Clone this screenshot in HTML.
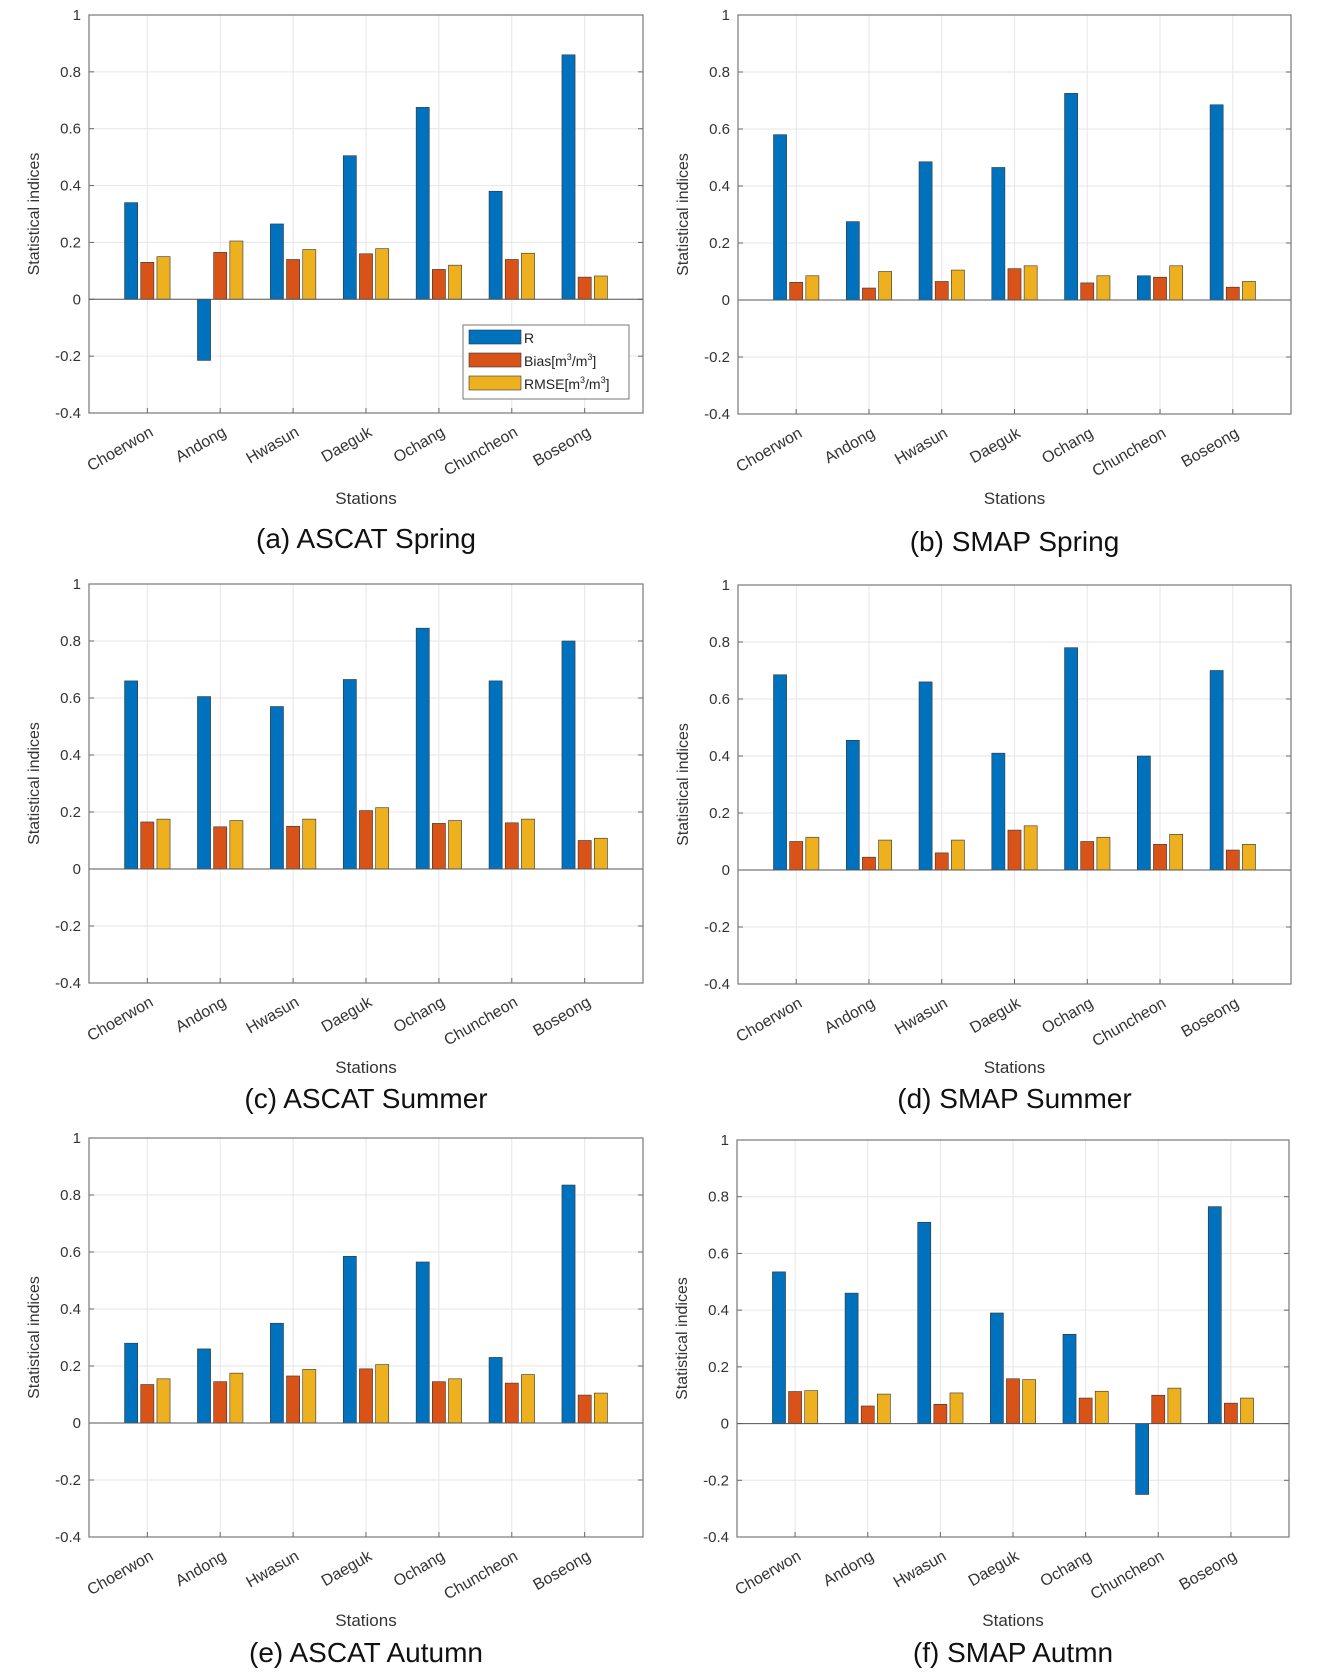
<!DOCTYPE html>
<html><head><meta charset="utf-8"><style>
body{margin:0;background:#fff;}
svg{display:block;font-family:"Liberation Sans",Arial,sans-serif;}
</style></head><body>
<svg id="s" width="1326" height="1677" xmlns="http://www.w3.org/2000/svg"></svg>
<script>
const P=[
{L:89,R:643,T:15,B:413,cap:"(a) ASCAT Spring",cy:538,sy:498,leg:true,
R_:[0.34,-0.215,0.265,0.505,0.675,0.38,0.86],Bi:[0.13,0.165,0.14,0.16,0.105,0.14,0.078],Rm:[0.15,0.205,0.175,0.178,0.12,0.162,0.082]},
{L:738,R:1291,T:15,B:414,cap:"(b) SMAP Spring",cy:541,sy:498,
R_:[0.58,0.275,0.485,0.465,0.725,0.085,0.685],Bi:[0.062,0.042,0.065,0.11,0.06,0.08,0.045],Rm:[0.085,0.1,0.105,0.12,0.085,0.12,0.065]},
{L:89,R:643,T:584,B:983,cap:"(c) ASCAT Summer",cy:1098,sy:1067,
R_:[0.66,0.605,0.57,0.665,0.845,0.66,0.8],Bi:[0.165,0.148,0.15,0.205,0.16,0.162,0.1],Rm:[0.175,0.17,0.175,0.215,0.17,0.175,0.108]},
{L:738,R:1291,T:585,B:984,cap:"(d) SMAP Summer",cy:1098,sy:1067,
R_:[0.685,0.455,0.66,0.41,0.78,0.4,0.7],Bi:[0.1,0.045,0.06,0.14,0.1,0.09,0.07],Rm:[0.115,0.105,0.105,0.155,0.115,0.125,0.09]},
{L:89,R:643,T:1138,B:1537,cap:"(e) ASCAT Autumn",cy:1652,sy:1620,
R_:[0.28,0.26,0.35,0.585,0.565,0.23,0.835],Bi:[0.135,0.145,0.165,0.19,0.145,0.14,0.098],Rm:[0.155,0.175,0.188,0.205,0.155,0.17,0.105]},
{L:737,R:1289,T:1140,B:1537,cap:"(f) SMAP Autmn",cy:1652,sy:1620,
R_:[0.535,0.46,0.71,0.39,0.315,-0.25,0.765],Bi:[0.113,0.062,0.068,0.158,0.09,0.1,0.072],Rm:[0.116,0.104,0.108,0.155,0.114,0.125,0.09]}
];
const st=["Choerwon","Andong","Hwasun","Daeguk","Ochang","Chuncheon","Boseong"];
const C=["#0072BD","#D95319","#EDB120"];
let h="";
for(const p of P){
 const W=p.R-p.L,H=p.B-p.T;
 const X=v=>p.L+(v-0.2)/7.6*W, Y=v=>p.T+(1-v)/1.4*H;
 for(let i=1;i<=7;i++)h+=`<line x1="${X(i)}" y1="${p.T}" x2="${X(i)}" y2="${p.B}" stroke="#e6e6e6"/>`;
 for(let k=0;k<=7;k++){const v=1-k*0.2;h+=`<line x1="${p.L}" y1="${Y(v)}" x2="${p.R}" y2="${Y(v)}" stroke="#e6e6e6"/>`;
  const t=Math.abs(v)<1e-9?"0":(Math.round(v*10)/10).toString();
  h+=`<text x="${p.L-8}" y="${Y(v)+5}" font-size="15" fill="#333" text-anchor="end">${t}</text>`;
  h+=`<line x1="${p.L}" y1="${Y(v)}" x2="${p.L+5}" y2="${Y(v)}" stroke="#666"/><line x1="${p.R}" y1="${Y(v)}" x2="${p.R-5}" y2="${Y(v)}" stroke="#666"/>`;}
 const sp=W/7.6,bw=sp*0.18;
 const z=Y(0);
 for(let i=0;i<7;i++){
  const c=X(i+1);
  [p.R_,p.Bi,p.Rm].forEach((arr,j)=>{const v=arr[i];const x=c+(j-1)*sp*0.222-bw/2;const y=Math.min(Y(v),z);const hh=Math.abs(Y(v)-z);
   h+=`<rect x="${x}" y="${y}" width="${bw}" height="${hh}" fill="${C[j]}" stroke="#333" stroke-width="0.6"/>`;});
  h+=`<line x1="${c}" y1="${p.B}" x2="${c}" y2="${p.B-5}" stroke="#666"/>`;
  h+=`<text transform="translate(${c+7},${p.B+22}) rotate(-30)" font-size="16" fill="#333" text-anchor="end">${st[i]}</text>`;
 }
 h+=`<line x1="${p.L}" y1="${z}" x2="${p.R}" y2="${z}" stroke="#555" stroke-width="1"/>`;
 h+=`<rect x="${p.L}" y="${p.T}" width="${W}" height="${H}" fill="none" stroke="#777" stroke-width="1.2"/>`;
 h+=`<text transform="translate(${p.L-50},${(p.T+p.B)/2}) rotate(-90)" font-size="16" fill="#333" text-anchor="middle">Statistical indices</text>`;
 h+=`<text x="${(p.L+p.R)/2}" y="${p.sy+6}" font-size="17" fill="#333" text-anchor="middle">Stations</text>`;
 h+=`<text x="${(p.L+p.R)/2}" y="${p.cy+10}" font-size="28" fill="#111" text-anchor="middle">${p.cap}</text>`;
 if(p.leg){
  h+=`<rect x="463" y="325" width="166" height="74" fill="#fff" stroke="#777"/>`;
  const lb=["R","Bias[m<tspan font-size='9' dy='-6'>3</tspan><tspan dy='6'>/m</tspan><tspan font-size='9' dy='-6'>3</tspan><tspan dy='6'>]</tspan>","RMSE[m<tspan font-size='9' dy='-6'>3</tspan><tspan dy='6'>/m</tspan><tspan font-size='9' dy='-6'>3</tspan><tspan dy='6'>]</tspan>"];
  for(let j=0;j<3;j++){const y=330+j*23;
   h+=`<rect x="469" y="${y}" width="52" height="14" fill="${C[j]}" stroke="#333" stroke-width="0.6"/>`;
   h+=`<text x="524" y="${y+13}" font-size="14" fill="#222">${lb[j]}</text>`;}
 }
}
document.getElementById("s").innerHTML=h;
</script>
</body></html>
